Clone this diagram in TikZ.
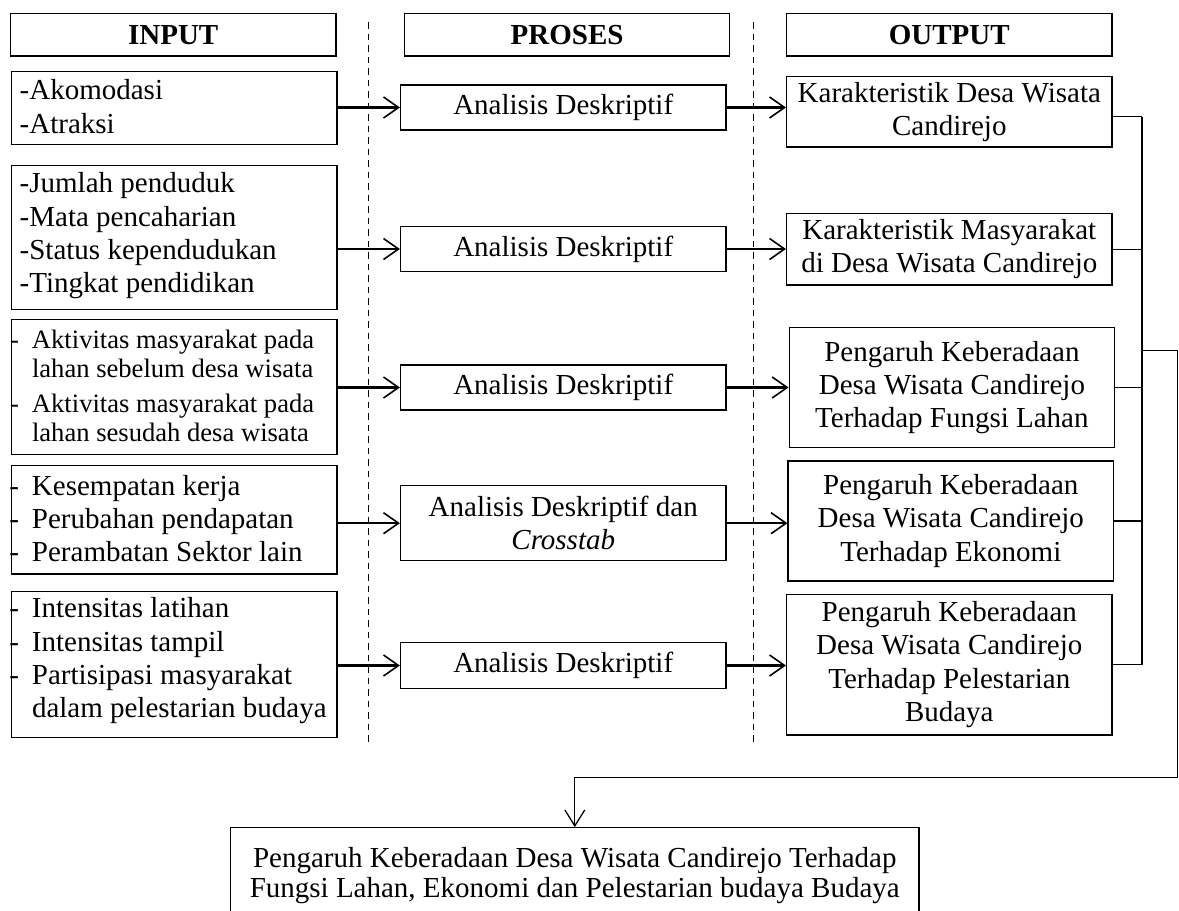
\documentclass[tikz,border=0pt]{standalone}
\usepackage{fontspec}
\setmainfont{Liberation Serif}
\usetikzlibrary{arrows.meta}
\newcommand\myhy{\llap{-\hskip 13pt}}
\begin{document}
\begin{tikzpicture}[x=1pt,y=-1pt,
  font=\fontsize{29}{33.3}\selectfont,
  bx/.style={draw, line width=1.2pt, inner sep=0pt, minimum width=325.5pt, align=center},
  hd/.style={bx, minimum height=42.7pt, font=\fontsize{29}{33.3}\selectfont\bfseries},
  txt/.style={inner sep=0pt, align=left, anchor=west},
  arr/.style={line width=2.2pt, -{Straight Barb[length=15pt,width=21pt,line width=1.6pt]}},
  thinln/.style={line width=1.2pt},
  sepln/.style={line width=1.2pt, dash pattern=on 6.5pt off 5pt}]
\useasboundingbox (0,0) rectangle (1179,911);

% headers
\node[hd] (hi) at (173.2,34.7) {INPUT};
\node[hd] (hp) at (567.1,34.7) {PROSES};
\node[hd] (ho) at (949.3,34.7) {OUTPUT};

% dashed separators
\coordinate (d1t) at (368.5,22);  \coordinate (d1b) at (368.5,746);
\coordinate (d2t) at (753.8,22);  \coordinate (d2b) at (753.8,746);
\draw[sepln] (d1t) -- (d1b);
\draw[sepln] (d2t) -- (d2b);

% input boxes
\node[bx, minimum height=73pt] (i1) at (174.25,108.2) {};
\node[txt] (i1t) at (19.5,106.5) {-Akomodasi\\-Atraksi};
\node[bx, minimum height=143.6pt] (i2) at (174.25,237.5) {};
\node[txt] (i2t) at (19.5,236) {-Jumlah penduduk\\-Mata pencaharian\\-Status kependudukan\\-Tingkat pendidikan};
\node[bx, minimum height=135.4pt] (i3) at (174.25,387) {};
\node[txt, font=\fontsize{26.6}{29}\selectfont] (i3t) at (31.8,385.5)
  {\myhy Aktivitas masyarakat pada\\lahan sebelum desa wisata\\[6pt]\myhy Aktivitas masyarakat pada\\lahan sesudah desa wisata};
\node[bx, minimum height=108.7pt] (i4) at (174.25,519.7) {};
\node[txt] (i4t) at (31.8,518.5) {\myhy Kesempatan kerja\\\myhy Perubahan pendapatan\\\myhy Perambatan Sektor lain};
\node[bx, minimum height=146pt] (i5) at (174.25,664.7) {};
\node[txt] (i5t) at (31.8,661) {\myhy Intensitas latihan\\\myhy Intensitas tampil\\\myhy Partisipasi masyarakat\\dalam pelestarian budaya};

% process boxes
\node[bx, minimum height=45pt] (p1) at (563.25,107.5) {Analisis Deskriptif};
\node[bx, minimum height=45pt] (p2) at (563.25,249) {Analisis Deskriptif};
\node[bx, minimum height=45pt] (p3) at (563.25,387.5) {Analisis Deskriptif};
\node[bx, minimum height=75pt] (p4) at (563.25,523.2) {Analisis Deskriptif dan\\\textit{Crosstab}};
\node[bx, minimum height=45.6pt] (p5) at (563.25,665.5) {Analisis Deskriptif};

% output boxes
\node[bx, minimum height=70.7pt] (o1) at (949.3,111.7) {Karakteristik Desa Wisata\\Candirejo};
\node[bx, minimum height=71.7pt] (o2) at (949.3,249.2) {Karakteristik Masyarakat\\di Desa Wisata Candirejo};
\node[bx, minimum height=119.6pt] (o3) at (951.9,387.5) {Pengaruh Keberadaan\\Desa Wisata Candirejo\\Terhadap Fungsi Lahan};
\node[bx, minimum height=120pt] (o4) at (950.8,521) {Pengaruh Keberadaan\\Desa Wisata Candirejo\\Terhadap Ekonomi};
\node[bx, minimum height=140.7pt] (o5) at (949.3,664.7) {Pengaruh Keberadaan\\Desa Wisata Candirejo\\Terhadap Pelestarian\\Budaya};

% final box (bottom edge outside the page)
\node[bx, minimum width=688.4pt, minimum height=95.6pt, font=\fontsize{29}{30.5}\selectfont] (fin) at (574.8,875.5)
  {Pengaruh Keberadaan Desa Wisata Candirejo Terhadap\\Fungsi Lahan, Ekonomi dan Pelestarian budaya Budaya};

% arrows input -> process
\draw[arr] (i1.east |- p1.west) -- (p1.west);
\draw[arr] (i2.east |- p2.west) -- (p2.west);
\draw[arr] (i3.east |- p3.west) -- (p3.west);
\draw[arr] (i4.east |- p4.west) -- (p4.west);
\draw[arr] (i5.east |- p5.west) -- (p5.west);

% arrows process -> output
\draw[arr] (p1.east) -- (p1.east -| o1.west);
\draw[arr] (p2.east) -- (p2.east -| o2.west);
\draw[arr] (p3.east) -- (p3.east -| o3.west);
\draw[arr] (p4.east) -- (p4.east -| o4.west);
\draw[arr] (p5.east) -- (p5.east -| o5.west);

% collector bus
\coordinate (bus) at (1142,0);
\coordinate (c1) at ([yshift=-5pt]o1.east);
\draw[thinln] (c1) -- (c1 -| bus);
\draw[thinln] (o2.east) -- (o2.east -| bus);
\draw[thinln] (o3.east) -- (o3.east -| bus);
\draw[thinln] (o4.east) -- (o4.east -| bus);
\draw[thinln] (o5.east) -- (o5.east -| bus);
\draw[thinln] (c1 -| bus) -- (o5.east -| bus);
\coordinate (r1) at (1177.5,350.7);
\coordinate (r2) at (1177.5,777.7);
\draw[thinln, -{Straight Barb[length=16pt,width=20pt,line width=1.3pt]}]
  (r1 -| bus) -- (r1) -- (r2) -| (fin.north);
\end{tikzpicture}
\end{document}
